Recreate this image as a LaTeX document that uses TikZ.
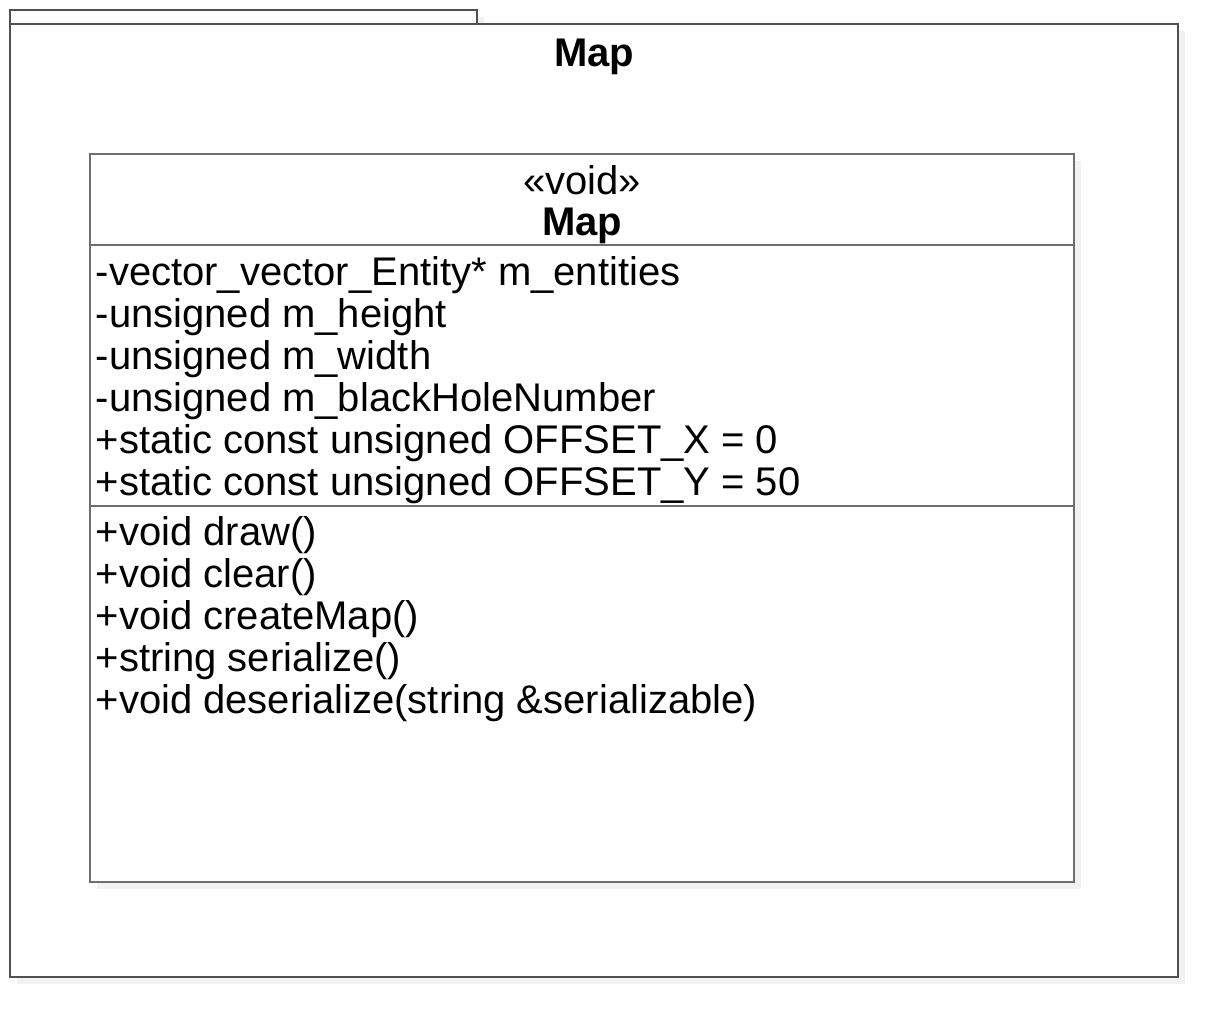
\documentclass[tikz,border=0pt]{standalone}
\usepackage{fontspec}
\setmainfont{Liberation Sans}
\definecolor{shd}{HTML}{F2F2F2}
\definecolor{ln}{HTML}{6E6E6E}
\definecolor{lnd}{HTML}{505050}
\begin{document}
\begin{tikzpicture}[x=1pt,y=-1pt,
  txt/.style={inner sep=0pt,anchor=base west,font=\fontsize{40}{42}\selectfont},
  ctr/.style={inner sep=0pt,anchor=base,font=\fontsize{40}{42}\selectfont},
  frame/.style={draw=lnd,line width=1.2pt,fill=white},
  cls/.style={draw=ln,line width=1.2pt,fill=white}]
\useasboundingbox (0,0) rectangle (1218,1018);
% shadows
\fill[shd] (17,31) rectangle (1185,984);
\fill[shd] (17,17) rectangle (484,31);
% outer package
\draw[frame] (10,10) rectangle (477,24);
\draw[frame] (10,24) rectangle (1178,977);
\node[ctr,font=\fontsize{40}{42}\selectfont\bfseries] (title) at (594,66) {Map};
% class
\fill[shd] (97,161) rectangle (1081,889);
\draw[cls] (90,154) rectangle (1074,882);
\draw[ln,line width=1.2pt] (90,245) -- (1074,245);
\draw[ln,line width=1.2pt] (90,506) -- (1074,506);
\node[ctr] (stereo) at (582,194) {«void»};
\node[ctr,font=\fontsize{40}{42}\selectfont\bfseries] (cname) at (582,235) {Map};
\node[txt] (a1) at (95.5,285) {-vector\_vector\_Entity* m\_entities};
\node[txt] (a2) at (95.5,327) {-unsigned m\_height};
\node[txt] (a3) at (95.5,369) {-unsigned m\_width};
\node[txt] (a4) at (95.5,411) {-unsigned m\_blackHoleNumber};
\node[txt] (a5) at (95.5,453) {+static const unsigned OFFSET\_X = 0};
\node[txt] (a6) at (95.5,495) {+static const unsigned OFFSET\_Y = 50};
\node[txt] (m1) at (95.5,545) {+void draw()};
\node[txt] (m2) at (95.5,587) {+void clear()};
\node[txt] (m3) at (95.5,629) {+void createMap()};
\node[txt] (m4) at (95.5,671) {+string serialize()};
\node[txt] (m5) at (95.5,713) {+void deserialize(string \&serializable)};
\end{tikzpicture}
\end{document}
